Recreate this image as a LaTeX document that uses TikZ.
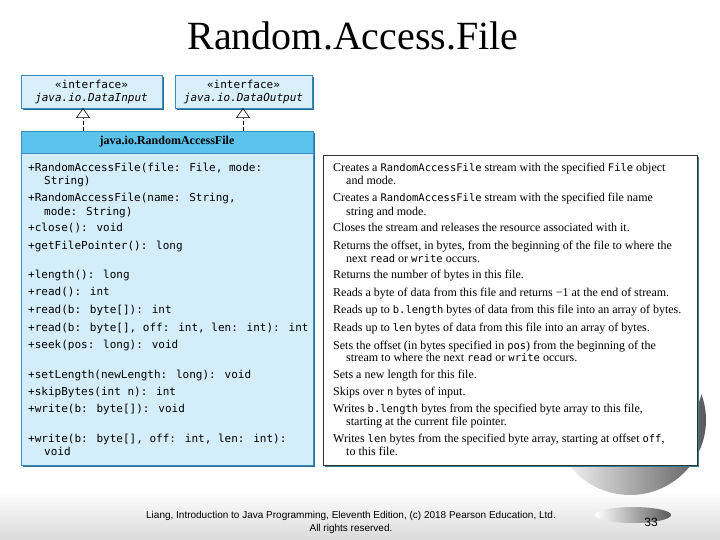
\documentclass[tikz,border=0pt]{standalone}
\usepackage{fontspec}
\setmainfont{Liberation Serif}
\newfontfamily\umlfont{DejaVu Sans Mono}
\newfontfamily\footfont{Liberation Sans}
\usetikzlibrary{arrows.meta,positioning,calc,shadows}
\definecolor{umlhead}{HTML}{5BC3EC}
\definecolor{umlbody}{HTML}{D4EDFA}
\definecolor{umlface}{HTML}{D9F0FB}
\definecolor{umlline}{HTML}{3A8CC0}
\definecolor{umlshade}{HTML}{2C6E96}
\definecolor{descshade}{HTML}{2F7F8F}
\definecolor{bandgray}{HTML}{DADADA}
\newcommand{\jcode}[1]{{\umlfont\fontsize{10.5}{12}\selectfont #1}}
\tikzset{
  umlshadow/.style={
    drop shadow={shadow xshift=1.6pt, shadow yshift=-1.6pt, fill=#1, opacity=1}
  },
  umlshadow/.default=umlshade,
  ifacebox/.style={
    rectangle, draw=umlline, fill=umlface, thin, umlshadow,
    minimum height=33pt, inner sep=0pt, outer sep=0pt, align=center,
    font=\umlfont\fontsize{11}{13}\selectfont
  },
  headbox/.style={
    rectangle, draw=umlline, fill=umlhead, thin, umlshadow,
    minimum width=292pt, minimum height=22pt, inner sep=0pt, outer sep=0pt,
    font=\bfseries\fontsize{12}{14}\selectfont
  },
  bodybox/.style={
    rectangle, draw=umlline, fill=umlbody, thin, umlshadow,
    minimum width=292pt, minimum height=312pt, inner sep=0pt, outer sep=0pt
  },
  descbox/.style={
    rectangle, draw=black!80, fill=white, thin, umlshadow=descshade,
    minimum width=374pt, minimum height=310pt, inner sep=0pt, outer sep=0pt
  },
  methodtext/.style={
    anchor=base west, inner sep=0pt, font=\umlfont\fontsize{11}{13}\selectfont
  },
  desctext/.style={
    anchor=base west, inner sep=0pt, font=\fontsize{12}{14}\selectfont
  },
  realizes/.style={
    dash pattern=on 4pt off 2pt, semithick,
    -{Triangle[open, length=10pt, width=14pt]}
  },
  footnode/.style={
    font=\footfont\fontsize{10}{12}\selectfont, inner sep=0pt
  },
}
\begin{document}
\begin{tikzpicture}[x=1pt, y=-1pt]
\useasboundingbox (0,0) rectangle (720,540);
\fill[white] (0,0) rectangle (720,540);

% slide decoration
\shade[top color=white, bottom color=bandgray] (0,490) rectangle (720,540);
\shade[left color=white, right color=black!65] (630,420) ellipse [x radius=76, y radius=75];
\fill[white] (612,372) ellipse [x radius=92, y radius=92];
\shade[left color=white, right color=black!65] (633,515) ellipse [x radius=38, y radius=8];

% title
\node[font=\fontsize{40}{44}\selectfont, anchor=base, inner sep=0pt] (title) at (353,50) {Random.Access.File};

% interfaces
\node[ifacebox, minimum width=141pt, anchor=north west] (din) at (21,75)
  {«interface»\\\textit{java.io.DataInput}};
\node[ifacebox, minimum width=137pt, right=13pt of din] (dout)
  {«interface»\\\textit{java.io.DataOutput}};

% class box
\node[headbox, anchor=north west] (hdr) at (21,131) {java.io.RandomAccessFile};
\node[bodybox, below=0pt of hdr] (body) {};

% descriptions box
\node[descbox, anchor=north west] (desc) at (323,155) {};

% realization arrows
\coordinate (in-tip) at (83,108);
\coordinate (out-tip) at (243,108);
\draw[realizes] (hdr.north -| in-tip) -- (in-tip);
\draw[realizes] (hdr.north -| out-tip) -- (out-tip);

% methods
\foreach \x/\y/\txt [count=\i] in {
  28/172/{+RandomAccessFile(file: File, mode:},
  44/185/{String)},
  28/202/{+RandomAccessFile(name: String,},
  44/215/{mode: String)},
  28/232/{+close(): void},
  28/249/{+getFilePointer(): long},
  28/278/{+length(): long},
  28/295/{+read(): int},
  28/313/{+read(b: byte[]): int},
  28/331/{+read(b: byte[], off: int, len: int): int},
  28/348/{+seek(pos: long): void},
  28/378/{+setLength(newLength: long): void},
  28/395/{+skipBytes(int n): int},
  28/412/{+write(b: byte[]): void},
  28/442/{+write(b: byte[], off: int, len: int):},
  44/455/{void}}
  \node[methodtext] (m\i) at (\x,\y) {\txt};

% descriptions
\foreach \x/\y/\txt [count=\i] in {
  333/172/{Creates a \jcode{RandomAccessFile} stream with the specified \jcode{File} object},
  346/185/{and mode.},
  333/202/{Creates a \jcode{RandomAccessFile} stream with the specified file name},
  346/215/{string and mode.},
  333/232/{Closes the stream and releases the resource associated with it.},
  333/249/{Returns the offset, in bytes, from the beginning of the file to where the},
  346/262/{next \jcode{read} or \jcode{write} occurs.},
  333/278/{Returns the number of bytes in this file.},
  333/296/{Reads a byte of data from this file and returns −1 at the end of stream.},
  333/313/{Reads up to \jcode{b.length} bytes of data from this file into an array of bytes.},
  333/331/{Reads up to \jcode{len} bytes of data from this file into an array of bytes.},
  333/349/{Sets the offset (in bytes specified in \jcode{pos}) from the beginning of the},
  346/361/{stream to where the next \jcode{read} or \jcode{write} occurs.},
  333/378/{Sets a new length for this file.},
  333/395/{Skips over \jcode{n} bytes of input.},
  333/412/{Writes \jcode{b.length} bytes from the specified byte array to this file,},
  346/425/{starting at the current file pointer.},
  333/442/{Writes \jcode{len} bytes from the specified byte array, starting at offset \jcode{off},},
  346/455/{to this file.}}
  \node[desctext] (d\i) at (\x,\y) {\txt};

% footer
\node[footnode] (foot1) at (351,516) {Liang, Introduction to Java Programming, Eleventh Edition, (c) 2018 Pearson Education, Ltd.};
\node[footnode, below=3pt of foot1] (foot2) {All rights reserved.};
\node[footnode, font=\footfont\fontsize{12}{14}\selectfont] (pageno) at (651,522) {33};
\end{tikzpicture}
\end{document}
